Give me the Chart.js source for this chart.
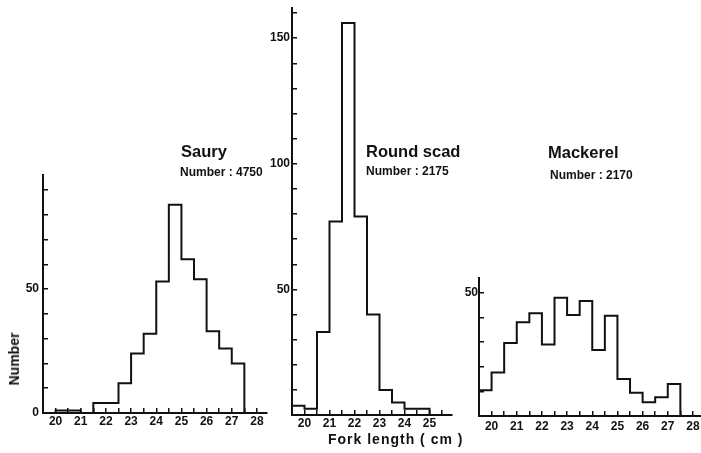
<!DOCTYPE html>
<html>
<head>
<meta charset="utf-8">
<script src="https://cdn.jsdelivr.net/npm/chart.js"></script>
<style>
body { margin: 0; background: #fff; }
#wrap { position: relative; width: 701px; height: 453px; overflow: hidden; }
#wrap canvas { position: absolute; left: 0; top: 0; }
.lbl {
    position: absolute;
    font-family: "Liberation Sans", Arial, sans-serif;
    font-weight: bold;
    color: #111;
    line-height: 1;
    white-space: nowrap;
    transform: translateY(-50%);
}
</style>
</head>
<body>
<div id="wrap">
    <canvas id="saury" width="701" height="453"></canvas>
    <canvas id="scad" width="701" height="453"></canvas>
    <canvas id="mackerel" width="701" height="453"></canvas>

    <div class="lbl" style="left:181px; top:151px; font-size:16.5px">Saury</div>
    <div class="lbl" style="left:180px; top:172px; font-size:12px">Number : 4750</div>
    <div class="lbl" style="left:366px; top:151px; font-size:16.5px">Round scad</div>
    <div class="lbl" style="left:366px; top:171px; font-size:12px">Number : 2175</div>
    <div class="lbl" style="left:548px; top:152px; font-size:16.5px">Mackerel</div>
    <div class="lbl" style="left:550px; top:175px; font-size:12px">Number : 2170</div>
    <div class="lbl" style="left:14px; top:359px; font-size:14px; transform:translate(-50%,-50%) rotate(-90deg)">Number</div>
    <div class="lbl" style="left:328px; top:439px; font-size:14px; letter-spacing:1px">Fork length ( cm )</div>
</div>

<script>
// left edge of each 0.5 cm class (last one closes the histogram)
const binEdges = [19.5, 20, 20.5, 21, 21.5, 22, 22.5, 23, 23.5, 24, 24.5, 25, 25.5, 26, 26.5, 27, 27.5, 28];
const sauryCounts = [0, 1, 1, 0, 4, 4, 12, 24, 32, 53, 84, 62, 54, 33, 26, 20, 0, 0];
const scadCounts = [3.7, 2.5, 33, 77, 156, 79, 40, 10, 5, 2.5, 2.5, 0, 0, 0, 0, 0, 0, 0];
const mackerelCounts = [10.5, 17.7, 29.6, 38, 41.7, 29, 48, 41, 46.7, 26.8, 40.7, 15, 9.4, 5.6, 7.6, 13, 0, 0];

const xTickLabels = [20, 21, 22, 23, 24, 25, 26, 27, 28];
const sauryYLabels = [0, 50];
const scadYLabels = [50, 100, 150];
const mackerelYLabels = [50];

const ink = '#111';
const tickFont = { family: '"Liberation Sans", Arial, sans-serif', size: 12, weight: 'bold' };

function isMultiple(v, step) {
    const r = v / step;
    return Math.abs(r - Math.round(r)) < 1e-6;
}

function panel(id, counts, yLabels, box) {
    const YW = 40, XH = 30;
    new Chart(document.getElementById(id), {
        type: 'line',
        data: {
            datasets: [{
                data: binEdges.map((x, i) => ({ x: x, y: counts[i] })),
                borderColor: ink,
                borderWidth: 2,
                stepped: true,
                pointRadius: 0,
                fill: false
            }]
        },
        options: {
            responsive: false,
            animation: false,
            events: [],
            layout: {
                autoPadding: false,
                padding: {
                    left: box.left - YW,
                    right: 701 - box.right,
                    top: box.top,
                    bottom: 453 - box.bottom - XH
                }
            },
            plugins: {
                legend: { display: false },
                tooltip: { enabled: false }
            },
            scales: {
                x: {
                    type: 'linear',
                    min: 19.5,
                    max: box.xMax,
                    afterFit: s => {
                        s.height = XH;
                        s.paddingLeft = 0;
                        s.paddingRight = 0;
                    },
                    afterBuildTicks: s => { s.ticks = s.ticks.filter(t => isMultiple(t.value, 0.5)); },
                    ticks: {
                        stepSize: 0.5,
                        includeBounds: false,
                        autoSkip: false,
                        maxRotation: 0,
                        padding: box.xPad,
                        color: ink,
                        font: tickFont,
                        callback: v => xTickLabels.some(l => Math.abs(l - v) < 1e-6) ? String(Math.round(v)) : ''
                    },
                    grid: { drawOnChartArea: false, tickLength: -5, color: ink, lineWidth: 1.5 },
                    border: { color: ink, width: 2 }
                },
                y: {
                    min: 0,
                    max: box.yMax,
                    afterFit: s => {
                        s.width = YW;
                        s.paddingTop = 0;
                        s.paddingBottom = 0;
                    },
                    afterBuildTicks: s => { s.ticks = s.ticks.filter(t => isMultiple(t.value, 10)); },
                    ticks: {
                        stepSize: 10,
                        includeBounds: false,
                        autoSkip: false,
                        padding: box.yPad,
                        color: ink,
                        font: tickFont,
                        callback: v => yLabels.includes(v) ? String(v) : ''
                    },
                    grid: { drawOnChartArea: false, tickLength: -5, color: ink, lineWidth: 1.5 },
                    border: { color: ink, width: 2 }
                }
            }
        }
    });
}

panel('saury', sauryCounts, sauryYLabels,
    { left: 43, right: 267, top: 175, bottom: 413, xMax: 28.4, yMax: 96, xPad: 6, yPad: 9 });
panel('scad', scadCounts, scadYLabels,
    { left: 292, right: 452, top: 8, bottom: 415, xMax: 25.9, yMax: 162, xPad: 6.5, yPad: 7 });
panel('mackerel', mackerelCounts, mackerelYLabels,
    { left: 479, right: 701, top: 278, bottom: 416, xMax: 28.32, yMax: 56, xPad: 8, yPad: 6 });
</script>
</body>
</html>
